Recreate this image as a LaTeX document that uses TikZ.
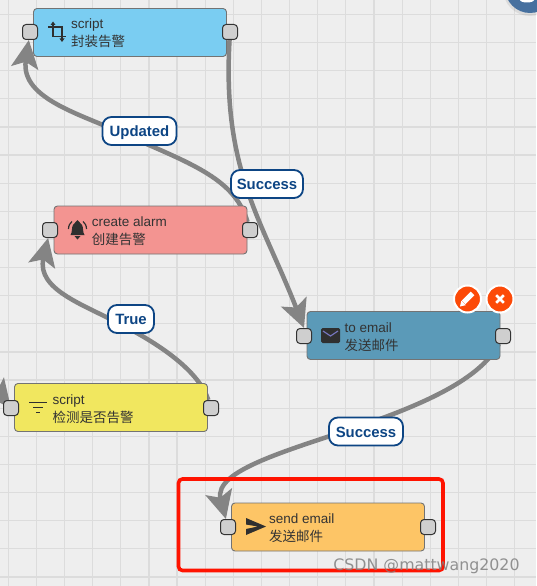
\documentclass[tikz,border=0pt]{standalone}
\usepackage{fontspec}
\setmainfont{Liberation Sans}
\newfontfamily\cjk{Noto Sans CJK SC}
\newfontfamily\markfont{DejaVu Sans}
\usepackage{tikz}
\usetikzlibrary{arrows.meta,backgrounds}

\definecolor{gridline}{HTML}{DCDCDC}
\definecolor{pagebg}{HTML}{EEEEEE}
\definecolor{edgegray}{HTML}{848484}
\definecolor{labelblue}{HTML}{0D4584}
\definecolor{icondark}{HTML}{2F2F2F}
\definecolor{btnred}{HTML}{FC4A08}

\tikzset{
  block/.style={draw=black!55, line width=0.9pt, rounded corners=3.5pt, minimum width=193pt, minimum height=48pt, inner sep=0pt},
  port/.style={draw=black!80, line width=1pt, fill=black!19, rounded corners=3.5pt, minimum width=15pt, minimum height=15pt, inner sep=0pt},
  blocktext/.style={anchor=west, align=left, inner sep=0pt, text=black!80, font=\fontsize{13.5}{18}\selectfont},
  edgelabel/.style={draw=labelblue, line width=1.8pt, fill=white, rounded corners=9pt, text=labelblue, minimum height=28pt, inner sep=0pt, text height=13pt, text depth=1.6pt, font=\fontsize{14.9}{16}\selectfont\bfseries},
  edge/.style={draw=edgegray, line width=4.5pt, -{Stealth[length=28pt,width=27pt,inset=6pt]}},
  button/.style={circle, draw=white, line width=2pt, fill=btnred, minimum size=27pt, inner sep=0pt},
}

\begin{document}
\begin{tikzpicture}[x=1pt, y=-1pt]
  \useasboundingbox (0,0) rectangle (536,586);

  % Blocks
  \node[block, fill={rgb,255:red,122;green,205;blue,242}] (scriptwrap) at (130,32.5) {};
  \node[block, fill={rgb,255:red,243;green,148;blue,145}] (alarm) at (150.5,230) {};
  \node[block, fill={rgb,255:red,241;green,231;blue,95}] (scriptcheck) at (111,407.5) {};
  \node[block, fill={rgb,255:red,91;green,154;blue,184}] (toemail) at (403.5,335.5) {};
  \node[block, fill={rgb,255:red,253;green,197;blue,102}] (sendemail) at (328,527) {};

  % Ports
  \node[port] (scriptwrapin) at (30,32) {};
  \node[port] (scriptwrapout) at (230,32) {};
  \node[port] (alarmin) at (50,230) {};
  \node[port] (alarmout) at (250,230) {};
  \node[port] (scriptcheckin) at (11,408) {};
  \node[port] (scriptcheckout) at (211,408) {};
  \node[port] (toemailin) at (304,336) {};
  \node[port] (toemailout) at (503,336) {};
  \node[port] (sendemailin) at (228,527) {};
  \node[port] (sendemailout) at (428,527) {};

  % Block texts
  \node[blocktext] (scriptwraptxt) at (71,33) {script\\{\cjk 封装告警}};
  \node[blocktext] (alarmtxt) at (91.7,231) {create alarm\\{\cjk 创建告警}};
  \node[blocktext] (scriptchecktxt) at (52.3,409) {script\\{\cjk 检测是否告警}};
  \node[blocktext] (toemailtxt) at (344.3,337) {to email\\{\cjk 发送邮件}};
  \node[blocktext] (sendemailtxt) at (269,528) {send email\\{\cjk 发送邮件}};

  % Crop icon
  \draw[icondark, line width=1.8pt] (53,24) -- (53,36.5) -- (66,36.5);
  \draw[icondark, line width=1.8pt] (48,27) -- (62,27) -- (62,39);
  \fill[icondark] (50.5,25) -- (53,21.5) -- (55.5,25) -- cycle;
  \fill[icondark] (59.5,38.5) -- (62,42) -- (64.5,38.5) -- cycle;

  % Bell icon
  \fill[icondark] (70.5,235) .. controls (72.5,232) and (71.5,227) .. (73,225) .. controls (74,223) and (76,222.5) .. (77.5,220) .. controls (79,222.5) and (81,223) .. (82,225) .. controls (83.5,227) and (82.5,232) .. (84.5,235) -- cycle;
  \fill[icondark] (74.5,236) -- (80.5,236) -- (77.5,239.5) -- cycle;
  \draw[icondark, line width=1.2pt] (68.5,229) .. controls (68.5,225.5) and (70,223) .. (72,221.5);
  \draw[icondark, line width=1.2pt] (86.5,229) .. controls (86.5,225.5) and (85,223) .. (83,221.5);

  % Filter icon
  \draw[icondark, line width=1.6pt] (29,402.5) -- (47,402.5);
  \draw[icondark, line width=1.6pt] (33,407.5) -- (43,407.5);
  \draw[icondark, line width=1.6pt] (36,412.5) -- (40,412.5);

  % Mail icon
  \fill[icondark, rounded corners=1.5pt] (321,328) rectangle (340,343);
  \draw[blue!35!gray!80, line width=1.2pt] (323,331) -- (330.5,336) -- (338,331);

  % Send icon
  \fill[icondark] (246,518) -- (266,526.5) -- (246,535) -- (246,529) -- (258,526.5) -- (246,524.5) -- cycle;

  % Edit and delete buttons
  \node[button] (editbtn) at (467.5,299) {};
  \node[button] (deletebtn) at (500,299) {};
  \draw[white, line width=5pt] (472.5,293.5) -- (463.5,302.5);
  \fill[white] (460,306.5) -- (461.3,300.8) -- (465.7,305.2) -- cycle;
  \draw[white, line width=2.6pt] (496.2,295.2) -- (503.8,302.8);
  \draw[white, line width=2.6pt] (503.8,295.2) -- (496.2,302.8);

  % Connector labels
  \node[edgelabel, minimum width=74pt] (updatedlbl) at (139.5,131) {Updated};
  \node[edgelabel, minimum width=72pt] (successtop) at (267,184) {Success};
  \node[edgelabel, minimum width=46pt] (truelbl) at (131,319) {True};
  \node[edgelabel, minimum width=74pt] (successlow) at (366,431.5) {Success};

  % Free points of the connectors
  \coordinate (updatedvia) at (128,136);
  \coordinate (truevia) at (124,326);
  \coordinate (lowvia) at (366,424);
  \coordinate (stubstart) at (-40,345);

  % Grid and connectors, behind everything
  \begin{scope}[on background layer]
    \fill[pagebg] (0,0) rectangle (536,586);
    \foreach \i in {0,...,18} {
      \draw[gridline, line width=1.2pt] (8.3+28.13*\i,0) -- (8.3+28.13*\i,586);
    }
    \foreach \i in {0,...,20} {
      \draw[gridline, line width=1.2pt] (0,14.4+28.13*\i) -- (536,14.4+28.13*\i);
    }
    \draw[edge] (alarmout) .. controls (235,180) and (195,165) .. (updatedvia) .. controls (85,115) and (20,100) .. (scriptwrapin);
    \draw[edge] (scriptwrapout) .. controls (222,170) and (262,220) .. (toemailin.north);
    \draw[edge] (scriptcheckout) .. controls (200,375) and (170,350) .. (truevia) .. controls (85,305) and (36,290) .. (alarmin);
    \draw[edge] (toemailout) .. controls (480,380) and (420,405) .. (lowvia) .. controls (290,450) and (213,470) .. (sendemailin);
    \draw[edge] (stubstart) -- (scriptcheckin.center);
  \end{scope}

  % Corner badge
  \fill[black, opacity=0.08] (530,-11) circle (27);
  \fill[fill={rgb,255:red,70;green,112;blue,159}] (530,-12) circle (25);
  \fill[white] (527,0) ellipse (7 and 2.5);

  % Red frame
  \draw[red!85!orange, line width=3.6pt, rounded corners=4pt] (178.5,479) rectangle (443,570.5);

  % Watermark
  \node[inner sep=0pt, text=black!50, opacity=0.85, font=\markfont\fontsize{15.8}{16}\selectfont] (watermark) at (426.5,566.5) {CSDN @mattwang2020};
\end{tikzpicture}
\end{document}
